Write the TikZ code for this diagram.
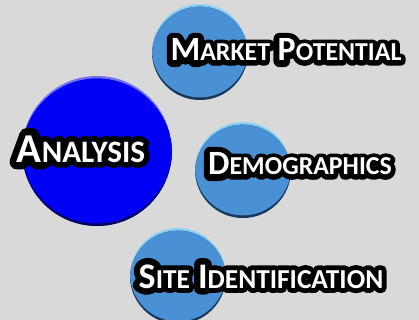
\documentclass[tikz,border=0pt]{standalone}
\usepackage{fontspec}
\setmainfont{Carlito}
% stroked copy of the face, used as the black rim behind the white letters
\newfontfamily\rimfont{Carlito Bold}[FakeBold=36]

% small capitals built from two sizes of capitals
\makeatletter
\newcommand{\fakesc}[2]{#1{\fontsize{\fpeval{0.76*\f@size}}{0}\selectfont #2}}
\makeatother
% rounded stroke joins for the rim text
\newcommand{\roundrim}[1]{\pgfsetroundjoin\pgfsetroundcap #1}

\definecolor{bgray}{RGB}{217,217,217}
\definecolor{mainblue}{RGB}{0,0,245}
\definecolor{mainlight}{RGB}{110,110,255}
\definecolor{maindark}{RGB}{0,0,90}
\definecolor{subblue}{RGB}{74,144,212}
\definecolor{sublight}{RGB}{140,210,245}
\definecolor{subdark}{RGB}{25,55,90}

% bevelled disc: light rim on top, dark rim at the bottom
\newcommand{\bevdisc}[6]{% x, y, radius, base, light, dark
  \begin{scope}
    \clip (#1,#2) circle (#3);
    \fill[#5] (#1,#2) circle (#3);
    \begin{scope}
      \clip (#1,#2+2.6) circle (#3);
      \fill[#6] (#1,#2) circle (#3+4);
      \clip (#1,#2-2.6) circle (#3);
      \fill[#4] (#1,#2) circle (#3+4);
    \end{scope}
  \end{scope}}

\tikzset{
  lbl/.style={anchor=base, inner sep=0pt},
  rim/.style={text=black},
  face/.style={text=white},
  bigsize/.style={font=\fontsize{41}{41}\bfseries\selectfont},
  subsize/.style={font=\fontsize{34}{34}\bfseries\selectfont},
  sitesize/.style={font=\fontsize{36}{36}\bfseries\selectfont},
  bigrim/.style={font=\fontsize{41}{41}\rimfont\selectfont},
  subrim/.style={font=\fontsize{34}{34}\rimfont\selectfont},
  siterim/.style={font=\fontsize{36}{36}\rimfont\selectfont}
}

\begin{document}
\begin{tikzpicture}[x=1pt,y=-1pt]
  \fill[bgray] (0,0) rectangle (419,320);
  \useasboundingbox (0,0) rectangle (419,320);

  \bevdisc{97}{151}{75}{mainblue}{mainlight}{maindark}
  \bevdisc{200}{52}{48}{subblue}{sublight}{subdark}
  \bevdisc{243}{170}{48}{subblue}{sublight}{subdark}
  \bevdisc{178}{276}{48}{subblue}{sublight}{subdark}

  \node[lbl, rim, bigrim] (analysisrim) at (81,162) {\roundrim{\fakesc{A}{NALYSIS}}};
  \node[lbl, face, bigsize] (analysis) at (81,162) {\fakesc{A}{NALYSIS}};

  \node[lbl, rim, subrim] (marketrim) at (286,61) {\roundrim{\fakesc{M}{ARKET} \fakesc{P}{OTENTIAL}}};
  \node[lbl, face, subsize] (market) at (286,61) {\fakesc{M}{ARKET} \fakesc{P}{OTENTIAL}};

  \node[lbl, rim, subrim] (demorim) at (300,175) {\roundrim{\fakesc{D}{EMOGRAPHICS}}};
  \node[lbl, face, subsize] (demo) at (300,175) {\fakesc{D}{EMOGRAPHICS}};

  \node[lbl, rim, siterim] (siterim) at (261,288) {\roundrim{\fakesc{S}{ITE} \fakesc{I}{DENTIFICATION}}};
  \node[lbl, face, sitesize] (site) at (261,288) {\fakesc{S}{ITE} \fakesc{I}{DENTIFICATION}};
\end{tikzpicture}
\end{document}
